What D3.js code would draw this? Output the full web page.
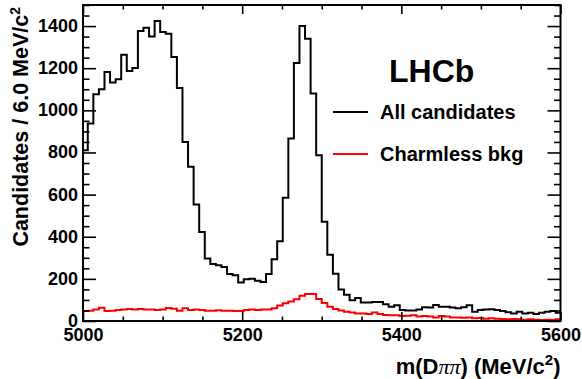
<!DOCTYPE html>
<html>
<head>
<meta charset="utf-8">
<script src="https://cdn.jsdelivr.net/npm/d3@7"></script>
<style>
  body { margin: 0; background: #fff; }
  text { font-family: "Liberation Sans", Arial, Helvetica, sans-serif; font-weight: bold; fill: #000; }
</style>
</head>
<body>
<svg id="chart" width="582" height="379"></svg>
<script>
// ---- data -------------------------------------------------------------
const massRange = [5000, 5600];          // MeV/c^2
const countRange = [0, 1500];
const firstBinEdge = 4999;               // lower edge of first drawn bin
const binWidth = 7;                      // MeV/c^2 per bin

const allCandidates = [
  810, 937, 1076, 1100, 1182, 1132, 1147, 1264, 1187, 1201,
  1377, 1392, 1351, 1424, 1372, 1364, 1253, 1106, 850, 732,
  553, 423, 297, 270, 265, 256, 223, 217, 183, 198,
  201, 191, 185, 223, 293, 378, 585, 866, 1225, 1400,
  1340, 1080, 787, 471, 315, 224, 149, 125, 98, 109,
  88, 88, 90, 90, 79, 68, 75, 52, 50, 50,
  54, 65, 64, 76, 68, 68, 64, 61, 65, 75,
  44, 52, 54, 56, 52, 48, 41, 36, 44, 36,
  39, 33, 39, 44, 48, 39
];

const charmlessBkg = [
  47, 49, 55, 63, 47, 49, 52, 55, 57, 55,
  57, 54, 55, 52, 55, 62, 58, 49, 60, 52,
  55, 52, 49, 49, 51, 49, 49, 47, 47, 52,
  55, 52, 55, 55, 60, 73, 84, 92, 103, 120,
  128, 128, 105, 85, 68, 57, 50, 44, 40, 36,
  36, 33, 40, 33, 28, 27, 27, 24, 25, 27,
  21, 24, 21, 17, 24, 21, 17, 17, 16, 17,
  13, 14, 11, 13, 11, 9, 8, 9, 8, 6,
  8, 6, 5, 6, 5, 8
];

const xTickLabels = [5000, 5200, 5400, 5600];
const yTickLabels = [0, 200, 400, 600, 800, 1000, 1200, 1400];
const xMinorStep = 50;
const yMinorStep = 50;

const legendEntries = [
  { label: "All candidates", color: "#000000", values: allCandidates },
  { label: "Charmless bkg",  color: "#ff0000", values: charmlessBkg }
];

// ---- layout -----------------------------------------------------------
const frame = { left: 83, right: 560.5, top: 5, bottom: 321 };
const svg = d3.select("#chart");
svg.append("rect").attr("width", 582).attr("height", 379).attr("fill", "#fff");

const x = d3.scaleLinear().domain(massRange).range([frame.left, frame.right]);
const y = d3.scaleLinear().domain(countRange).range([frame.bottom, frame.top]);

svg.append("clipPath").attr("id", "plotArea")
  .append("rect")
  .attr("x", frame.left).attr("y", frame.top)
  .attr("width", frame.right - frame.left).attr("height", frame.bottom - frame.top);

// ---- histograms (step outlines) -----------------------------------------
function stepPoints(vals) {
  const pts = [[x(firstBinEdge), y(0)]];
  vals.forEach((v, i) => {
    const lo = firstBinEdge + i * binWidth;
    pts.push([x(lo), y(v)], [x(lo + binWidth), y(v)]);
  });
  pts.push([x(firstBinEdge + vals.length * binWidth), y(0)]);
  return pts;
}

const hist = svg.append("g").attr("clip-path", "url(#plotArea)");
// background first, then all candidates on top
[legendEntries[1], legendEntries[0]].forEach(s => {
  hist.append("path")
    .attr("d", d3.line()(stepPoints(s.values)))
    .attr("fill", "none")
    .attr("stroke", s.color)
    .attr("stroke-width", 2)
    .attr("stroke-linejoin", "miter");
});

// ---- axes ---------------------------------------------------------------
const xMinor = d3.range(massRange[0], massRange[1] + 1, xMinorStep).filter(v => !xTickLabels.includes(v));
const yMinor = d3.range(countRange[0], countRange[1] + 1, yMinorStep).filter(v => !yTickLabels.includes(v));
const yMajorAll = d3.range(countRange[0], countRange[1] + 1, 200);

function styleAxis(g) {
  g.select(".domain").remove();
  g.selectAll(".tick line").attr("stroke", "#000").attr("stroke-width", 1.6);
}
function styleLabels(g) {
  g.selectAll("text")
    .attr("font-size", 18)
    .attr("font-family", "Liberation Sans, Arial, sans-serif")
    .attr("font-weight", "bold");
}

// bottom
svg.append("g").attr("transform", `translate(0,${frame.bottom})`)
  .call(d3.axisBottom(x).tickValues(xTickLabels).tickSize(-9).tickPadding(7).tickFormat(d3.format("d")))
  .call(styleAxis).call(styleLabels);
svg.append("g").attr("transform", `translate(0,${frame.bottom})`)
  .call(d3.axisBottom(x).tickValues(xMinor).tickSize(-4.5).tickFormat(""))
  .call(styleAxis);
// top
svg.append("g").attr("transform", `translate(0,${frame.top})`)
  .call(d3.axisTop(x).tickValues(xTickLabels).tickSize(-9).tickFormat(""))
  .call(styleAxis);
svg.append("g").attr("transform", `translate(0,${frame.top})`)
  .call(d3.axisTop(x).tickValues(xMinor).tickSize(-4.5).tickFormat(""))
  .call(styleAxis);
// left
svg.append("g").attr("transform", `translate(${frame.left},0)`)
  .call(d3.axisLeft(y).tickValues(yTickLabels).tickSize(-13).tickPadding(5).tickFormat(d3.format("d")))
  .call(styleAxis).call(styleLabels)
  .call(g => g.selectAll("text").attr("dy", "0.3em"));
svg.append("g").attr("transform", `translate(${frame.left},0)`)
  .call(d3.axisLeft(y).tickValues(yMinor).tickSize(-6.5).tickFormat(""))
  .call(styleAxis);
// right
svg.append("g").attr("transform", `translate(${frame.right},0)`)
  .call(d3.axisRight(y).tickValues(yMajorAll).tickSize(-13).tickFormat(""))
  .call(styleAxis);
svg.append("g").attr("transform", `translate(${frame.right},0)`)
  .call(d3.axisRight(y).tickValues(yMinor).tickSize(-6.5).tickFormat(""))
  .call(styleAxis);

// frame
svg.append("rect")
  .attr("x", frame.left).attr("y", frame.top)
  .attr("width", frame.right - frame.left).attr("height", frame.bottom - frame.top)
  .attr("fill", "none").attr("stroke", "#000").attr("stroke-width", 2);

// ---- titles -------------------------------------------------------------
const yTitle = svg.append("text")
  .attr("transform", `translate(28,${frame.top + 2}) rotate(-90)`)
  .attr("text-anchor", "end")
  .attr("font-size", 21.5);
yTitle.append("tspan").text("Candidates / 6.0 MeV/c");
yTitle.append("tspan").attr("font-size", 14).attr("dy", -8).text("2");

const xTitle = svg.append("text")
  .attr("x", frame.right).attr("y", 374)
  .attr("text-anchor", "end")
  .attr("font-size", 22);
xTitle.append("tspan").text("m(D");
xTitle.append("tspan").attr("font-family", "Liberation Serif, DejaVu Serif, serif").attr("font-weight", "normal").attr("font-style", "italic").text("\u03c0\u03c0");
xTitle.append("tspan").text(") (MeV/c");
xTitle.append("tspan").attr("font-size", 15).attr("dy", -9).text("2");
xTitle.append("tspan").attr("dy", 9).text(")");

// experiment label
svg.append("text").attr("x", 389).attr("y", 82).attr("font-size", 32).text("LHCb");

// ---- legend -------------------------------------------------------------
const legend = svg.append("g");
legendEntries.forEach((s, i) => {
  const cy = 112 + i * 42;
  legend.append("line")
    .attr("x1", 333).attr("x2", 368).attr("y1", cy).attr("y2", cy)
    .attr("stroke", s.color).attr("stroke-width", 2);
  legend.append("text")
    .attr("x", 380).attr("y", cy + 7)
    .attr("font-size", 20)
    .text(s.label);
});
</script>
</body>
</html>
